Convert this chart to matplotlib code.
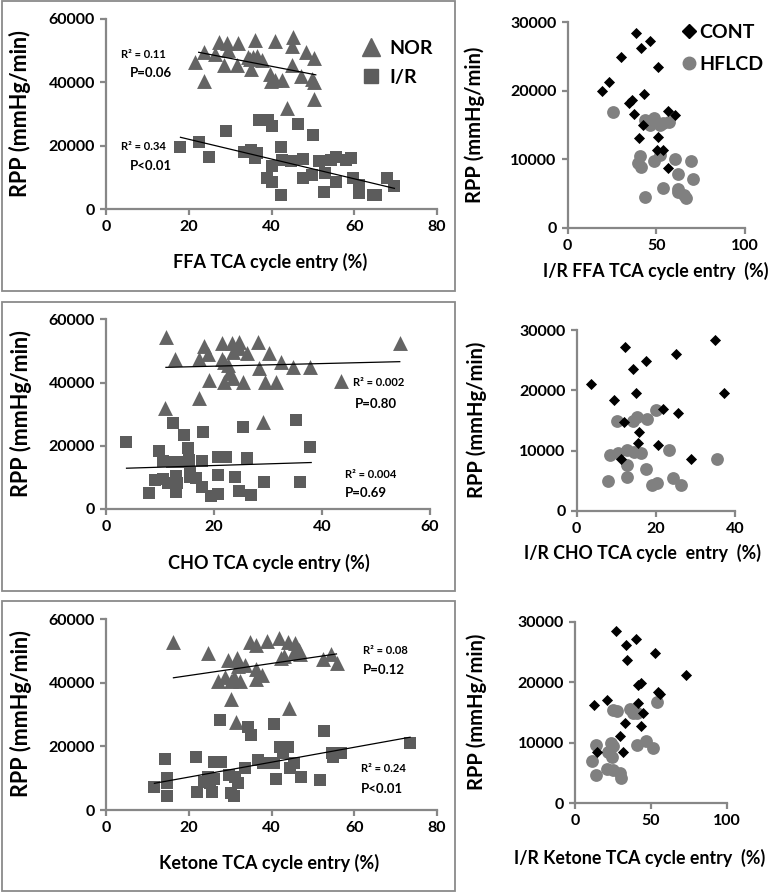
import matplotlib
matplotlib.use("Agg")
import matplotlib.pyplot as plt
from matplotlib.patches import Rectangle
from matplotlib.lines import Line2D
import numpy as np

plt.rcParams['font.family'] = ['Lato', 'DejaVu Sans']
plt.rcParams['font.weight'] = 'bold'

# ---------------- DATA ----------------
# Panel 1: FFA TCA cycle entry (%) vs RPP
ffa_nor_x = [21.6, 23.6, 23.8, 26.3, 27.4, 29.3, 29.4, 28.4, 32.0, 31.7, 34.2, 36.0, 34.8, 35.5,
             35.1, 36.6, 37.8, 39.6, 39.8, 40.9, 40.8, 42.6, 43.7, 45.1, 44.9, 44.9, 47.1, 48.4,
             50.3, 49.8, 50.3, 50.2]
ffa_nor_y = [46300, 49600, 40500, 49100, 52700, 52400, 50100, 45400, 52400, 45400, 48000, 53300,
             47400, 48000, 44200, 48200, 47000, 42800, 40500, 53000, 40900, 40900, 31900, 54300,
             51400, 45600, 42100, 49500, 47700, 41200, 40100, 34800]
ffa_ir_x = [18.0, 22.4, 24.8, 29.0, 33.3, 35.0, 35.9, 37.0, 39.2, 40.2, 39.0, 40.0, 40.0, 42.2,
            42.2, 42.6, 44.7, 46.3, 47.5, 47.5, 50.1, 49.9, 51.5, 52.9, 52.8, 54.4, 55.6, 55.6,
            58.0, 59.2, 59.6, 61.2, 61.2, 64.5, 65.3, 68.0, 69.7, 36.6]
ffa_ir_y = [19800, 21100, 16600, 24700, 18200, 18700, 16100, 28200, 28000, 26300, 9800, 13500,
            8700, 19800, 4500, 15600, 15100, 27000, 15800, 9800, 23500, 10800, 15100, 11400, 5600,
            15600, 16600, 8700, 15600, 16100, 9800, 7700, 5100, 4500, 4500, 9800, 7200, 17700]
ffa_nor_trend_x = [22.4, 50.7]
ffa_nor_trend_y = [49500, 42400]
ffa_ir_trend_x = [18.0, 69.7]
ffa_ir_trend_y = [22700, 6600]

# Panel 2: CHO TCA cycle entry (%) vs RPP
cho_nor_x = [11.2, 12.7, 10.9, 18.1, 18.9, 17.2, 19.0, 17.3, 21.4, 21.4, 21.8, 21.8, 22.6, 22.8,
             23.5, 23.4, 23.5, 24.6, 24.7, 26.1, 25.4, 28.1, 28.4, 29.0, 30.2, 29.5, 31.5, 32.4,
             34.7, 37.7, 43.5, 54.4]
cho_nor_y = [54300, 47300, 31800, 51500, 49100, 47600, 40800, 35000, 52400, 47600, 46600, 40300,
             45500, 42900, 41300, 52400, 49700, 52900, 50800, 49400, 40300, 52900, 44500, 27600,
             49400, 40300, 40300, 46600, 45000, 45000, 40500, 52400]
cho_ir_x = [3.7, 9.8, 10.5, 9.1, 7.9, 10.6, 11.5, 12.4, 12.3, 12.9, 13.2, 13.0, 14.4, 14.3, 15.2,
            15.4, 15.5, 15.6, 16.7, 18.0, 17.8, 17.8, 19.5, 20.7, 20.7, 20.7, 22.2, 23.8, 24.7,
            25.3, 26.1, 26.8, 29.2, 35.2, 35.9, 37.8]
cho_ir_y = [21100, 18200, 15300, 9200, 5000, 9400, 8300, 27100, 15000, 10300, 8300, 5500, 23400,
            15000, 19200, 15500, 11800, 10200, 9700, 24500, 15200, 7100, 4200, 16500, 4700, 10800,
            16500, 10200, 5700, 26000, 16200, 4400, 8600, 28100, 8600, 19700]
cho_nor_trend_x = [11.1, 54.4]
cho_nor_trend_y = [44800, 46600]
cho_ir_trend_x = [3.8, 38.0]
cho_ir_trend_y = [12900, 14700]

# Panel 3: Ketone TCA cycle entry (%) vs RPP
ket_nor_x = [16.3, 24.7, 27.0, 29.6, 28.8, 30.2, 30.2, 31.0, 31.7, 32.0, 32.3, 31.5, 33.5, 34.7,
             36.3, 36.3, 36.3, 37.7, 39.0, 41.9, 42.2, 43.1, 43.9, 44.2, 45.7, 45.5, 46.7, 47.0,
             52.4, 54.5, 55.9]
ket_nor_y = [52800, 49300, 40600, 47200, 42000, 40600, 34800, 42000, 47700, 45300, 40600, 27800,
             45600, 53000, 51900, 44300, 41100, 42500, 53200, 54000, 47700, 48300, 53000, 32000,
             52400, 49800, 50400, 49100, 47400, 49100, 46200]
ket_ir_x = [11.7, 14.2, 14.8, 14.8, 14.8, 21.8, 22.1, 23.6, 24.7, 25.2, 25.5, 26.0, 27.8, 27.6,
            26.0, 29.7, 30.2, 30.9, 31.1, 32.0, 33.7, 34.3, 35.0, 36.7, 38.0, 40.7, 40.7, 41.1,
            42.0, 42.9, 43.9, 44.5, 45.5, 47.2, 52.8, 51.8, 54.6, 54.8, 56.7, 73.5]
ket_ir_y = [7100, 16000, 10000, 8400, 4500, 16800, 5800, 8900, 10500, 8400, 5600, 15200, 15200,
            28300, 9700, 11000, 5200, 4400, 10500, 8600, 13100, 26200, 23600, 15700, 14900, 27100,
            14900, 9700, 19700, 17800, 19900, 13100, 14700, 10300, 24700, 9400, 18000, 16800,
            18000, 21000]
ket_nor_trend_x = [16.3, 55.7]
ket_nor_trend_y = [41600, 49100]
ket_ir_trend_x = [11.7, 73.5]
ket_ir_trend_y = [8400, 22900]

# Panel 4: I/R FFA TCA cycle entry (%) — CONT vs HFLCD
rffa_cont_x = [38.3, 46.4, 41.2, 30.1, 51.1, 23.3, 19.2, 43.2, 36.1, 34.8, 37.2, 56.8, 60.5,
               42.7, 51.1, 40.4, 50.2, 53.9, 56.8]
rffa_cont_y = [28400, 27300, 26200, 24900, 23500, 21300, 19900, 19600, 18700, 18200, 16600,
               17100, 16400, 15000, 13300, 13100, 11300, 11400, 8700]
rffa_hf_x = [25.8, 43.6, 46.4, 48.7, 52.1, 53.9, 57.1, 40.8, 39.8, 41.2, 48.7, 51.9, 60.5, 69.4,
             62.0, 70.9, 53.9, 62.0, 62.4, 65.6, 66.7, 43.6]
rffa_hf_y = [16900, 15800, 15000, 16000, 15000, 15300, 15500, 10500, 9400, 8800, 9800, 10600,
             10000, 9800, 7900, 7100, 5800, 5700, 5200, 4800, 4400, 4500]

# Panel 5: I/R CHO TCA cycle entry (%)
rcho_cont_x = [3.5, 9.4, 12.2, 14.1, 15.0, 17.5, 21.7, 25.5, 25.0, 15.8, 15.6, 20.5, 12.0, 11.2,
               28.9, 35.0, 37.3]
rcho_cont_y = [21000, 18400, 27100, 23500, 19500, 24800, 16900, 16200, 26000, 13100, 11200,
               10900, 14800, 8600, 8600, 28300, 19600]
rcho_hf_x = [10.1, 14.2, 15.2, 17.7, 20.0, 8.4, 10.5, 12.6, 14.5, 16.2, 23.2, 12.6, 17.5, 7.8,
             12.6, 19.0, 20.2, 24.3, 26.3, 35.4]
rcho_hf_y = [14900, 14900, 15500, 15200, 16700, 9300, 9600, 10100, 9700, 9600, 10100, 7600, 6900,
             5000, 5600, 4300, 4600, 5500, 4300, 8600]

# Panel 6: I/R Ketone TCA cycle entry (%)
rket_cont_x = [27.0, 33.6, 40.2, 34.5, 52.7, 73.2, 20.9, 12.7, 41.8, 43.5, 54.5, 56.0, 41.8,
               45.1, 33.0, 43.3, 29.7, 31.4, 14.3]
rket_cont_y = [28500, 26100, 27200, 23600, 24800, 21200, 17100, 16200, 19500, 19900, 18400,
               18000, 16600, 14900, 13200, 12800, 11100, 8500, 8400]
rket_hf_x = [24.8, 27.5, 36.3, 38.5, 40.7, 23.5, 24.8, 13.6, 22.0, 24.2, 11.0, 40.7, 46.8, 51.2,
             20.9, 24.8, 13.6, 29.7, 30.3, 54.3]
rket_hf_y = [15400, 15300, 15500, 14900, 14900, 10000, 9400, 9600, 8500, 7700, 7000, 9600, 10300,
             9200, 5700, 5500, 4700, 5000, 4200, 16800]

left_xlabels = ["FFA TCA cycle entry (%)", "CHO TCA cycle entry (%)", "Ketone TCA cycle entry (%)"]
right_xlabels = ["I/R FFA TCA cycle entry  (%)", "I/R CHO TCA cycle  entry  (%)",
                 "I/R Ketone TCA cycle entry  (%)"]
ylabel = "RPP (mmHg/min)"

# ---------------- FIGURE ----------------
W, H = 771, 893
fig = plt.figure(figsize=(W / 100, H / 100), dpi=100)

def fx(px):
    return px / W

def fy(py):
    return 1 - py / H

def add_axes_px(x0, x1, ytop, ybot):
    ax = fig.add_axes([fx(x0), fy(ybot), fx(x1) - fx(x0), (ybot - ytop) / H])
    ax._px = (x0, x1, ytop, ybot)
    return ax

def place_labels(ax, xl_px, yl_px):
    x0, x1, ytop, ybot = ax._px
    ax.xaxis.set_label_coords((xl_px[0] - x0) / (x1 - x0), (ybot - xl_px[1]) / (ybot - ytop))
    ax.yaxis.set_label_coords((yl_px[0] - x0) / (x1 - x0), (ybot - yl_px[1]) / (ybot - ytop))
    ax.xaxis.label.set_va("center")
    ax.yaxis.label.set_va("center")

SPINE = "#878787"
TRI = "#646464"
SQ = "#5c5c5c"
CIRC = "#808080"

def style(ax, xmax, xstep, ymax, ystep):
    ax.set_xlim(0, xmax)
    ax.set_ylim(0, ymax)
    ax.set_xticks(np.arange(0, xmax + 0.1, xstep))
    ax.set_yticks(np.arange(0, ymax + 1, ystep))
    for s in ("top", "right"):
        ax.spines[s].set_visible(False)
    for s in ("left", "bottom"):
        ax.spines[s].set_color(SPINE)
        ax.spines[s].set_linewidth(1.6)
    ax.tick_params(axis="both", direction="out", length=4, width=1.6, color=SPINE,
                   labelsize=11.5, pad=4)
    for lab in ax.get_xticklabels() + ax.get_yticklabels():
        lab.set_fontweight("bold")
    ax.patch.set_alpha(0)

# Boxes around left panels
for (y0, y1) in [(1.5, 291), (301.5, 590.5), (601, 890.5)]:
    fig.patches.append(Rectangle((fx(1.5), fy(y1)), fx(454.5) - fx(1.5), (y1 - y0) / H,
                                 transform=fig.transFigure, fill=False, edgecolor="#8a8a8a",
                                 linewidth=1.3))

left_specs = [
    (add_axes_px(106, 437, 19, 209.3), 80, ffa_nor_x, ffa_nor_y, ffa_ir_x, ffa_ir_y,
     ffa_nor_trend_x, ffa_nor_trend_y, ffa_ir_trend_x, ffa_ir_trend_y, (270, 262), (20, 114)),
    (add_axes_px(106, 430, 319.3, 509), 60, cho_nor_x, cho_nor_y, cho_ir_x, cho_ir_y,
     cho_nor_trend_x, cho_nor_trend_y, cho_ir_trend_x, cho_ir_trend_y, (269, 563), (21, 414)),
    (add_axes_px(106, 437, 619.3, 810), 80, ket_nor_x, ket_nor_y, ket_ir_x, ket_ir_y,
     ket_nor_trend_x, ket_nor_trend_y, ket_ir_trend_x, ket_ir_trend_y, (269, 863), (21, 714)),
]

for i, (ax, xmax, nx, ny, ix, iy, ntx, nty, itx, ity, xlp, ylp) in enumerate(left_specs):
    style(ax, xmax, 20, 60000, 20000)
    ax.scatter(nx, ny, marker="^", s=115, color=TRI, linewidths=0, zorder=3, clip_on=False)
    ax.scatter(ix, iy, marker="s", s=85, color=SQ, linewidths=0, zorder=3, clip_on=False)
    ax.plot(ntx, nty, color="black", linewidth=0.9, zorder=4)
    ax.plot(itx, ity, color="black", linewidth=0.9, zorder=4)
    ax.set_xlabel(left_xlabels[i], fontsize=13, fontweight="bold")
    ax.set_ylabel(ylabel, fontsize=15.5, fontweight="bold")
    place_labels(ax, xlp, ylp)

# annotations (pixel positions)
annots = [
    (121, 54, "R² = 0.11", 8), (130, 73, "P=0.06", 9.5),
    (121, 147, "R² = 0.34", 8), (130, 166, "P<0.01", 9.5),
    (353, 383, "R² = 0.002", 8), (355, 404, "P=0.80", 9.5),
    (345, 474, "R² = 0.004", 8), (345, 493, "P=0.69", 9.5),
    (363, 650, "R² = 0.08", 8), (363, 670, "P=0.12", 9.5),
    (361, 768, "R² = 0.24", 8), (361, 789, "P<0.01", 9.5),
]
for (px, py, t, fs) in annots:
    fig.text(fx(px), fy(py), t, fontsize=fs, fontweight="bold", ha="left", va="center")

# legend for left column
h_nor = Line2D([], [], marker="^", linestyle="none", color=TRI, markersize=12.5)
h_ir = Line2D([], [], marker="s", linestyle="none", color=SQ, markersize=10)
fig.legend([h_nor, h_ir], ["NOR", "I/R"], loc="upper left",
           bbox_to_anchor=(fx(361), fy(40)), frameon=False, handletextpad=0.45,
           labelspacing=0.6, prop={"size": 14, "weight": "bold"}, handlelength=1.0,
           borderpad=0, borderaxespad=0)

right_specs = [
    (add_axes_px(567.7, 745, 22.3, 227.7), 100, 50, rffa_cont_x, rffa_cont_y, rffa_hf_x, rffa_hf_y,
     (656, 271), (475, 125)),
    (add_axes_px(576.7, 735, 330, 511), 40, 20, rcho_cont_x, rcho_cont_y, rcho_hf_x, rcho_hf_y,
     (643, 553), (477, 420)),
    (add_axes_px(575, 726.7, 621.7, 803.3), 100, 50, rket_cont_x, rket_cont_y, rket_hf_x, rket_hf_y,
     (640, 858), (477, 712)),
]
for i, (ax, xmax, xstep, cx, cy, hx, hy, xlp, ylp) in enumerate(right_specs):
    style(ax, xmax, xstep, 30000, 10000)
    ax.scatter(cx, cy, marker="D", s=32, color="black", linewidths=0, zorder=4, clip_on=False)
    ax.scatter(hx, hy, marker="o", s=85, color=CIRC, linewidths=0, zorder=3, clip_on=False)
    ax.set_xlabel(right_xlabels[i], fontsize=12.8, fontweight="bold")
    ax.set_ylabel(ylabel, fontsize=14.5, fontweight="bold")
    place_labels(ax, xlp, ylp)

h_cont = Line2D([], [], marker="D", linestyle="none", color="black", markersize=7)
h_hf = Line2D([], [], marker="o", linestyle="none", color=CIRC, markersize=9)
fig.legend([h_cont, h_hf], ["CONT", "HFLCD"], loc="upper left",
           bbox_to_anchor=(fx(681), fy(24)), frameon=False, handletextpad=0.15,
           labelspacing=0.75, prop={"size": 14, "weight": "bold"}, handlelength=0.8,
           borderpad=0, borderaxespad=0)

fig.savefig("out.png", dpi=100)
